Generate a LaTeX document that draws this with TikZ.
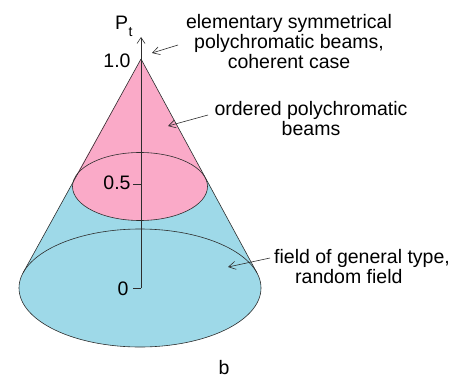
\documentclass[tikz,border=0pt]{standalone}
\usepackage{fontspec}
\setmainfont{Liberation Sans}
\usetikzlibrary{arrows.meta,calc}
\definecolor{conepink}{RGB}{250,170,200}
\definecolor{coneblue}{RGB}{158,217,232}
\definecolor{lin}{RGB}{45,45,45}
\begin{document}
\begin{tikzpicture}[x=1pt,y=1pt,
  lbl/.style={font=\fontsize{19.5}{20}\selectfont, align=center, inner sep=0pt},
  ticklbl/.style={font=\fontsize{19.5}{20}\selectfont, inner sep=0pt},
  pointer/.style={draw=lin, line width=0.6pt, -{Straight Barb[length=7pt,width=8pt]}},
  edgeline/.style={draw=lin, line width=0.6pt}]
\useasboundingbox (0,0) rectangle (457,381);
% geometry
\coordinate (A) at (141,322);
\coordinate (C1) at (140,93);
\coordinate (C2) at (140,194.5);
\coordinate (BL) at ($(C1)+(165:121 and 59)$);
\coordinate (BR) at ($(C1)+(15:121 and 59)$);
\coordinate (PL) at ($(C2)+(165:67.5 and 34)$);
% fills
\fill[coneblue] (A) -- (BL) arc[start angle=165, end angle=375, x radius=121, y radius=59] -- cycle;
\fill[conepink] (A) -- (PL) arc[start angle=165, end angle=375, x radius=67.5, y radius=34] -- cycle;
% outlines
\draw[edgeline] (A) -- (BL);
\draw[edgeline] (A) -- (BR);
\draw[edgeline] (C1) ellipse[x radius=121, y radius=59];
\draw[edgeline] (C2) ellipse[x radius=67.5, y radius=34];
% axis
\coordinate (O) at (141,93);
\coordinate (Top) at (141,344);
\draw[edgeline, -{Straight Barb[length=6pt,width=8pt]}] (O) -- (Top);
\coordinate (T0) at (133,93);
\coordinate (Th) at (141,197);
\coordinate (Th0) at (133,197);
\draw[edgeline] (T0) -- (O);
\draw[edgeline] (Th0) -- (Th);
\node[ticklbl] (l0) at (123,92) {0};
\node[ticklbl] (l05) at (117,198) {0.5};
\node[ticklbl] (l10) at (117,320) {1.0};
\node[ticklbl, anchor=base west] (pt) at (115,351) {P\kern0.3pt\raisebox{-7pt}{\fontsize{14}{14}\selectfont t}};
% labels
\node[lbl] (t1) at (289,339) {elementary symmetrical\\polychromatic beams,\\coherent case};
\node[lbl] (t2) at (311,262) {ordered polychromatic\\beams};
\node[lbl, align=left] (t3) at (362,114) {field of general type,\\\hspace*{21pt}random field};
\node[lbl] (b) at (224,13) {b};
% pointers
\coordinate (a1s) at (178,336);
\coordinate (a1e) at (152,328);
\coordinate (a2s) at (208,266);
\coordinate (a2e) at (168,255);
\coordinate (a3s) at (270,123);
\coordinate (a3e) at (228,114);
\draw[pointer] (a1s) -- (a1e);
\draw[pointer] (a2s) -- (a2e);
\draw[pointer] (a3s) -- (a3e);
\end{tikzpicture}
\end{document}
